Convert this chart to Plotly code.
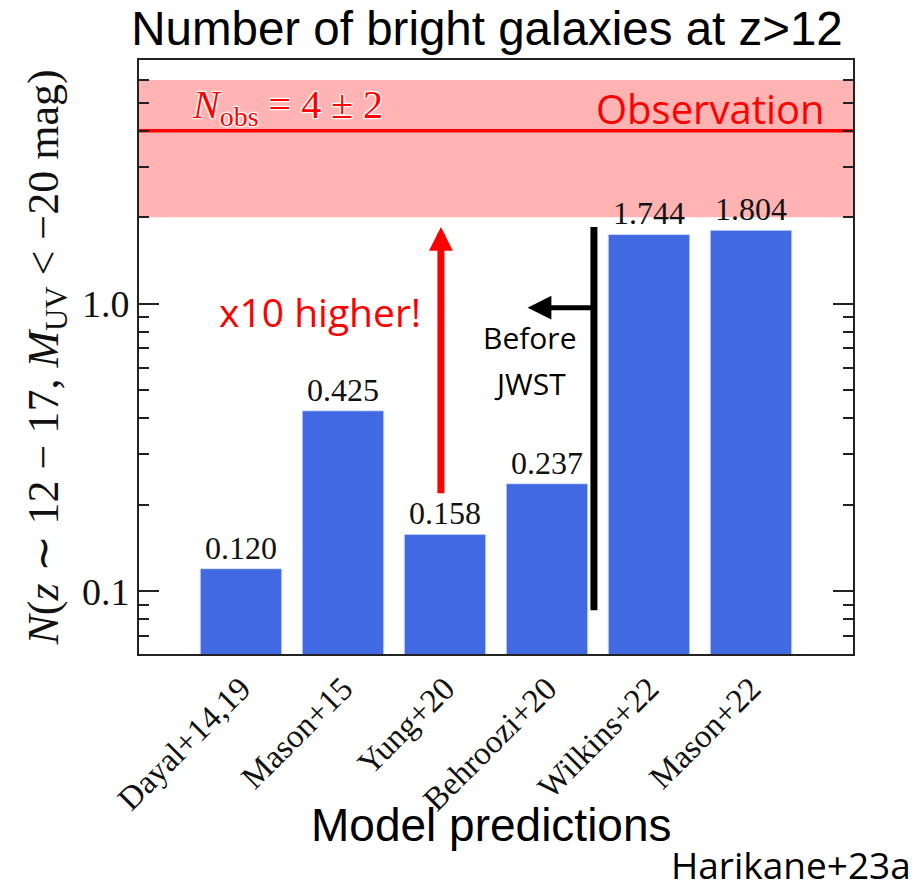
import numpy as np
import plotly.graph_objects as go

# Model predictions of bright galaxy counts at z ~ 12-17 (M_UV < -20 mag)
models = ["Dayal+14,19", "Mason+15", "Yung+20", "Behroozi+20", "Wilkins+22", "Mason+22"]
n_pred = [0.120, 0.425, 0.158, 0.237, 1.744, 1.804]

# Observed number and its uncertainty
n_obs = 4.0
n_obs_err = 2.0

x_idx = list(range(len(models)))
x_lo, x_hi = -1, len(models)

SERIF = "Liberation Serif, Times New Roman, serif"
SANS = "Liberation Sans, Arial, sans-serif"
CAL = "Open Sans, Noto Sans, sans-serif"

fig = go.Figure()

fig.add_trace(go.Bar(
    x=x_idx, y=n_pred, width=0.8,
    marker=dict(color="#4169e1", line=dict(color="rgba(220,228,255,0.9)", width=1)),
    texttemplate="%{y:.3f}", textposition="outside", constraintext="none",
    textfont=dict(family=SERIF, size=32, color="#111111"),
    cliponaxis=False, showlegend=False,
))

# divider separating pre-JWST models
fig.add_trace(go.Scatter(
    x=[3.46, 3.46], y=[0.086, 1.85], mode="lines",
    line=dict(color="black", width=7), hoverinfo="skip", showlegend=False,
))

# observation band (N_obs +/- err) and central value, behind the bars
shapes = [
    dict(type="rect", xref="paper", yref="y", x0=0, x1=1,
         y0=n_obs - n_obs_err, y1=n_obs + n_obs_err,
         fillcolor="#ffb3b3", line=dict(width=0), layer="below"),
    dict(type="line", xref="paper", yref="y", x0=0, x1=1, y0=n_obs, y1=n_obs,
         line=dict(color="#ff0000", width=3.5), layer="below"),
]


def label(x, y, text, font, xanchor="center"):
    return dict(x=x, y=y, xref="paper", yref="paper", text=text, showarrow=False,
                xanchor=xanchor, yanchor="middle", font=font)


annos = [
    # red "x10 higher" arrow
    dict(x=1.96, y=np.log10(1.85), ax=1.96, ay=np.log10(0.217), xref="x", yref="y",
         axref="x", ayref="y", text="", showarrow=True, arrowhead=2, arrowsize=0.68,
         arrowwidth=7, arrowcolor="#ff0000"),
    # black "Before JWST" arrow
    dict(x=2.81, y=np.log10(0.97), ax=3.46, ay=np.log10(0.97), xref="x", yref="y",
         axref="x", ayref="y", text="", showarrow=True, arrowhead=2, arrowsize=0.95,
         arrowwidth=5, arrowcolor="black"),
    label(0.2535, 0.576, "x10 higher!", dict(family=CAL, size=39, color="#ff0000")),
    label(0.5476, 0.532, "Before", dict(family=CAL, size=30, color="black")),
    label(0.5476, 0.456, "JWST", dict(family=CAL, size=30, color="black")),
    label(0.801, 0.918, "Observation", dict(family=CAL, size=40, color="#ff0000")),
    label(0.0714, 0.921, "<i>N</i><sub>obs</sub> = 4 ± 2",
          dict(family=SERIF, size=40, color="#ff0000",
               shadow="1px 1px 1px white, -1px -1px 1px white, 1px -1px 1px white, -1px 1px 1px white, 0 0 3px white"),
          xanchor="left"),
    label(0.494, -0.288, "Model predictions", dict(family=SANS, size=46, color="black")),
    label((913 - 139) / 714, (654 - 865) / 594, "Harikane+23a",
          dict(family=CAL, size=37, color="black"), xanchor="right"),
]

minor_vals = [0.07, 0.08, 0.09] + [k / 10 for k in range(2, 10)] + [float(k) for k in range(2, 8)]

fig.update_layout(
    width=921, height=892,
    margin=dict(l=139, r=68, t=60, b=238),
    paper_bgcolor="white", plot_bgcolor="white",
    title=dict(text="Number of bright galaxies at z>12", x=487 / 921, xanchor="center",
               y=1 - 28 / 892, yanchor="middle",
               font=dict(family=SANS, size=47.5, color="black")),
    annotations=annos,
    shapes=shapes,
    xaxis=dict(
        range=[x_lo, x_hi], tickmode="array", tickvals=x_idx, ticktext=models,
        tickangle=-45, ticks="", showgrid=False, zeroline=False,
        showline=True, linecolor="#222222", linewidth=2, mirror=True,
        tickfont=dict(family=SERIF, size=33, color="#111111"),
    ),
    yaxis=dict(
        type="log", range=[-1.2175, 0.848],
        tickmode="array", tickvals=[0.1, 1.0], ticktext=["0.1", "1.0"],
        ticks="inside", ticklen=20, tickwidth=1.5, tickcolor="#222222",
        minor=dict(tickmode="array", tickvals=minor_vals, ticks="inside",
                   ticklen=10, tickwidth=1.5, tickcolor="#222222", showgrid=False),
        showgrid=False, zeroline=False,
        showline=True, linecolor="#222222", linewidth=2, mirror="ticks",
        tickfont=dict(family=SERIF, size=38, color="#111111"),
        title=dict(text="<i>N</i>(<i>z</i> ∼ 12 − 17, <i>M</i><sub>UV</sub> &lt; −20 mag)",
                   font=dict(family=SERIF, size=44, color="#111111"), standoff=10),
    ),
)

fig.write_html("out.html")
